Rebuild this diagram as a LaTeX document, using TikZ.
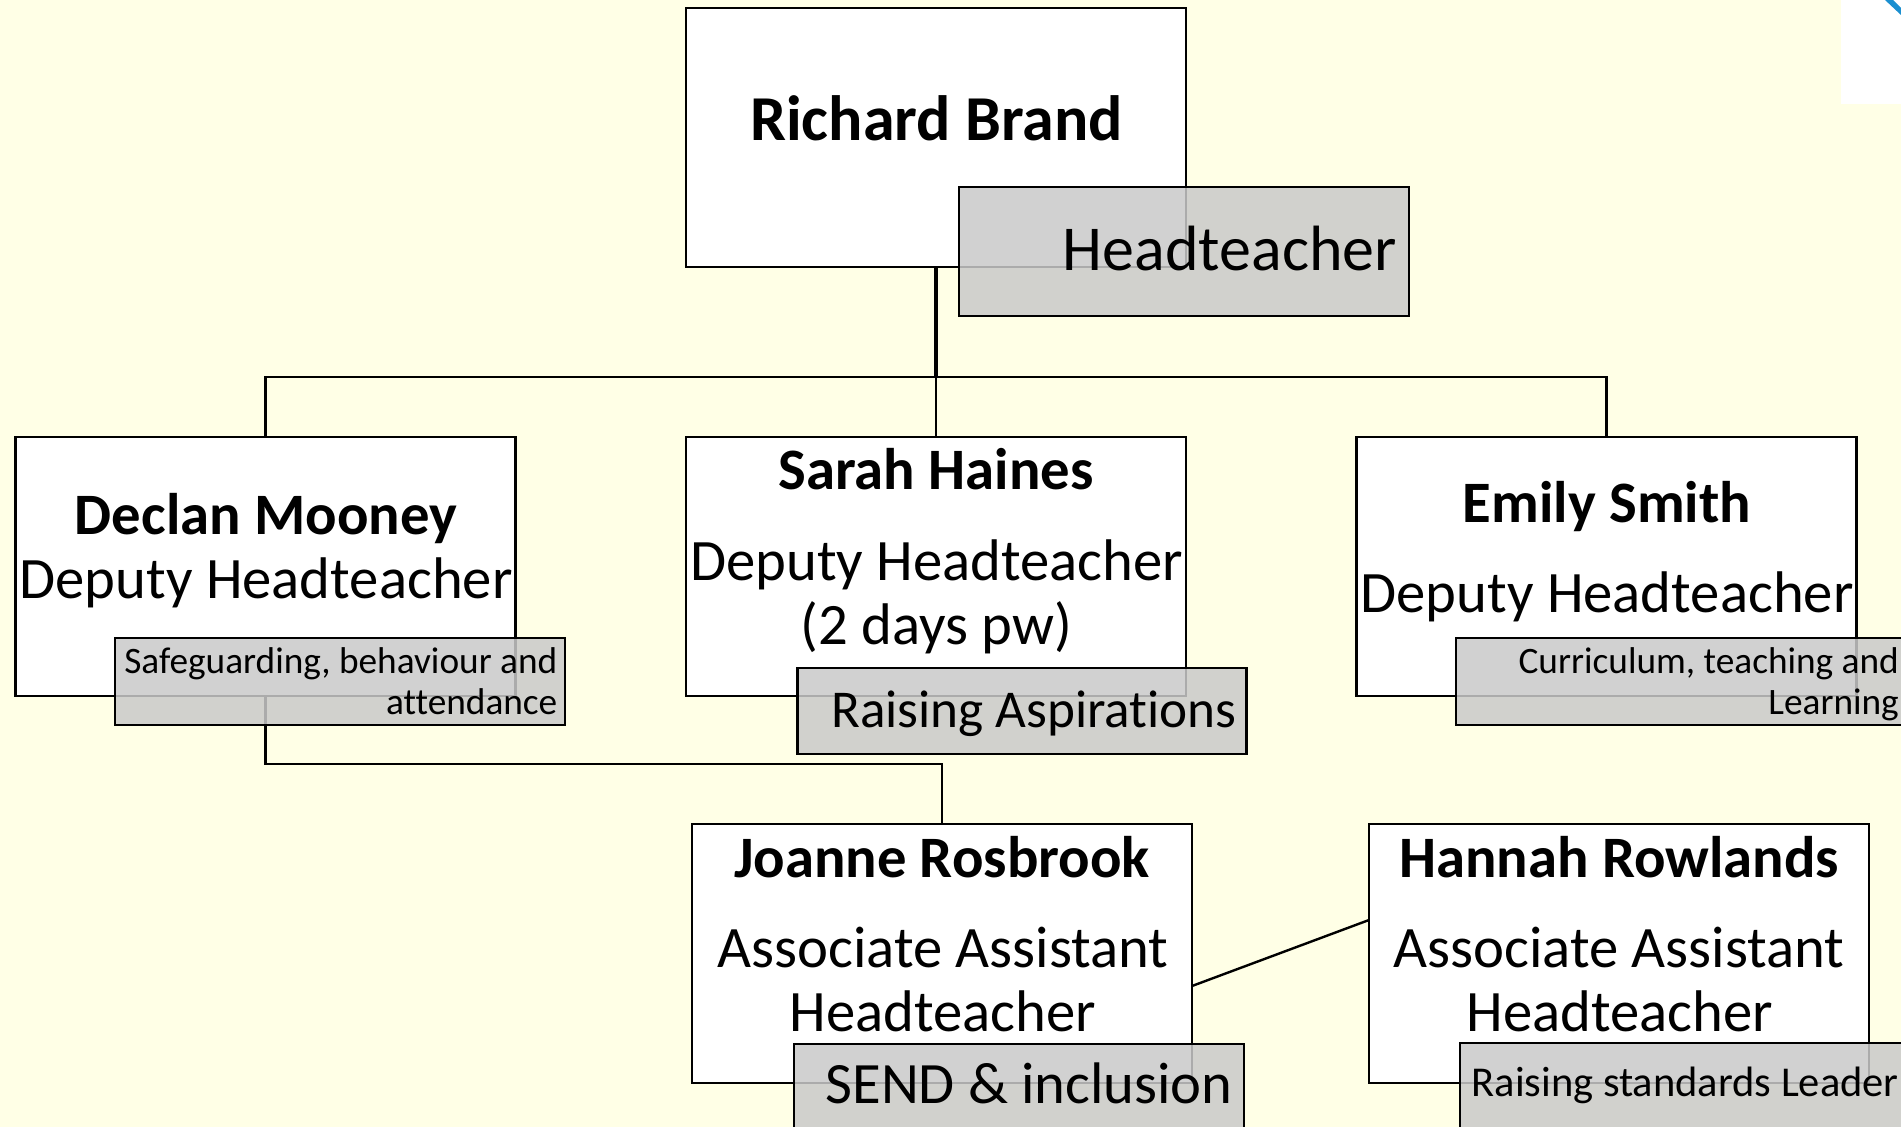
\documentclass[tikz,border=0pt]{standalone}
\usepackage{fontspec}
\setmainfont{Carlito}[Ligatures=NoCommon]
\definecolor{pagebg}{HTML}{FFFFE6}
\definecolor{tagfill}{HTML}{C9C9C9}
\definecolor{logoblue}{HTML}{1B8FD0}
\newcommand{\fs}[1]{\fontsize{#1}{#1}\selectfont}
\tikzset{
  x=1pt,y=-1pt,
  box/.style={draw=black,line width=2.6pt,fill=white,anchor=north west,inner sep=0pt,outer sep=0pt,minimum width=500pt,minimum height=259pt},
  tag/.style={draw=black,line width=2.6pt,fill=tagfill,fill opacity=.85,anchor=north west,inner sep=0pt,outer sep=0pt},
  link/.style={draw=black,line width=2.4pt,line join=miter},
  name text/.style={anchor=base,inner sep=0pt,font=\fs{58.7}\bfseries},
  role text/.style={anchor=base,inner sep=0pt,font=\fs{58.7}},
  big tag text/.style={anchor=base east,inner sep=0pt,font=\fs{58.6}},
  mid tag text/.style={anchor=base east,inner sep=0pt,font=\fs{53.2}},
  small tag text/.style={anchor=base east,inner sep=0pt,font=\fs{37.3}},
}
\begin{document}
\begin{tikzpicture}
\useasboundingbox (0,0) rectangle (1901,1127);
\clip (0,0) rectangle (1901,1127);
\fill[pagebg] (0,0) rectangle (1901,1127);
% logo corner
\fill[white] (1841,0) rectangle (1901,104);
\fill[logoblue] (1885,0) -- (1893,0) -- (1901,8) -- (1901,15) -- cycle;
% boxes
\node[box] (richard) at (686,8) {};
\node[box] (declan) at (15.5,437) {};
\node[box] (sarah) at (686,437) {};
\node[box] (emily) at (1356.5,437) {};
\node[box] (joanne) at (692,824) {};
\node[box] (hannah) at (1369,824) {};
% connectors
\coordinate (busr) at (0,377);
\coordinate (busd) at (0,764);
\draw[link,line width=3.4pt] (richard.south) -- (richard.south |- busr);
\draw[link] (richard.south) |- (declan.north |- busr) -- (declan.north);
\draw[link] (richard.south) -- (sarah.north);
\draw[link] (richard.south) |- (emily.north |- busr) -- (emily.north);
\draw[link] (declan.south) -- (declan.south |- busd) -- (joanne.north |- busd) -- (joanne.north);
\coordinate (jout) at (1192,986);
\coordinate (hin) at (1369,920);
\draw[link] (jout) -- (hin);
% tags
\node[tag,minimum width=450pt,minimum height=129pt] (t1) at (959,187) {};
\node[tag,minimum width=450pt,minimum height=87pt] (t2) at (115,638) {};
\node[tag,minimum width=449pt,minimum height=86pt] (t3) at (797.5,668) {};
\node[tag,minimum width=460pt,minimum height=87pt] (t4) at (1456,638) {};
\node[tag,minimum width=450pt,minimum height=100pt] (t5) at (794,1044) {};
\node[tag,minimum width=460pt,minimum height=100pt] (t6) at (1460,1043) {};
% texts
\node[name text,font=\fs{64}\bfseries] (n1) at (936.5,140.5) {Richard Brand};
\node[big tag text,font=\fs{64}] (d1) at (1397,270) {Headteacher};
\node[name text] (n2) at (266,534) {Declan Mooney};
\node[role text] (r2) at (266,598) {Deputy Headteacher};
\node[name text] (n3) at (936,489) {Sarah Haines};
\node[role text] (r3) at (936.5,580) {Deputy Headteacher};
\node[role text] (r3b) at (936.5,644) {(2 days pw)};
\node[name text] (n4) at (1607,522) {Emily Smith};
\node[role text] (r4) at (1607,612) {Deputy Headteacher};
\node[name text] (n5) at (942,877) {Joanne Rosbrook};
\node[role text] (r5) at (943,967) {Associate Assistant};
\node[role text] (r5b) at (943,1031) {Headteacher};
\node[name text] (n6) at (1619,877) {Hannah Rowlands};
\node[role text] (r6) at (1619,967) {Associate Assistant};
\node[role text] (r6b) at (1620,1031) {Headteacher};
\node[small tag text] (d2) at (557.5,673) {Safeguarding, behaviour and};
\node[small tag text] (d2b) at (557.5,714) {attendance};
\node[mid tag text] (d3) at (1237,727) {Raising Aspirations};
\node[small tag text] (d4) at (1899,673) {Curriculum, teaching and};
\node[small tag text] (d4b) at (1899,714) {Learning};
\node[big tag text] (d5) at (1233,1103) {SEND \& inclusion};
\node[small tag text,font=\fs{42.5}] (d6) at (1899,1096.5) {Raising standards Leader};
\end{tikzpicture}
\end{document}
